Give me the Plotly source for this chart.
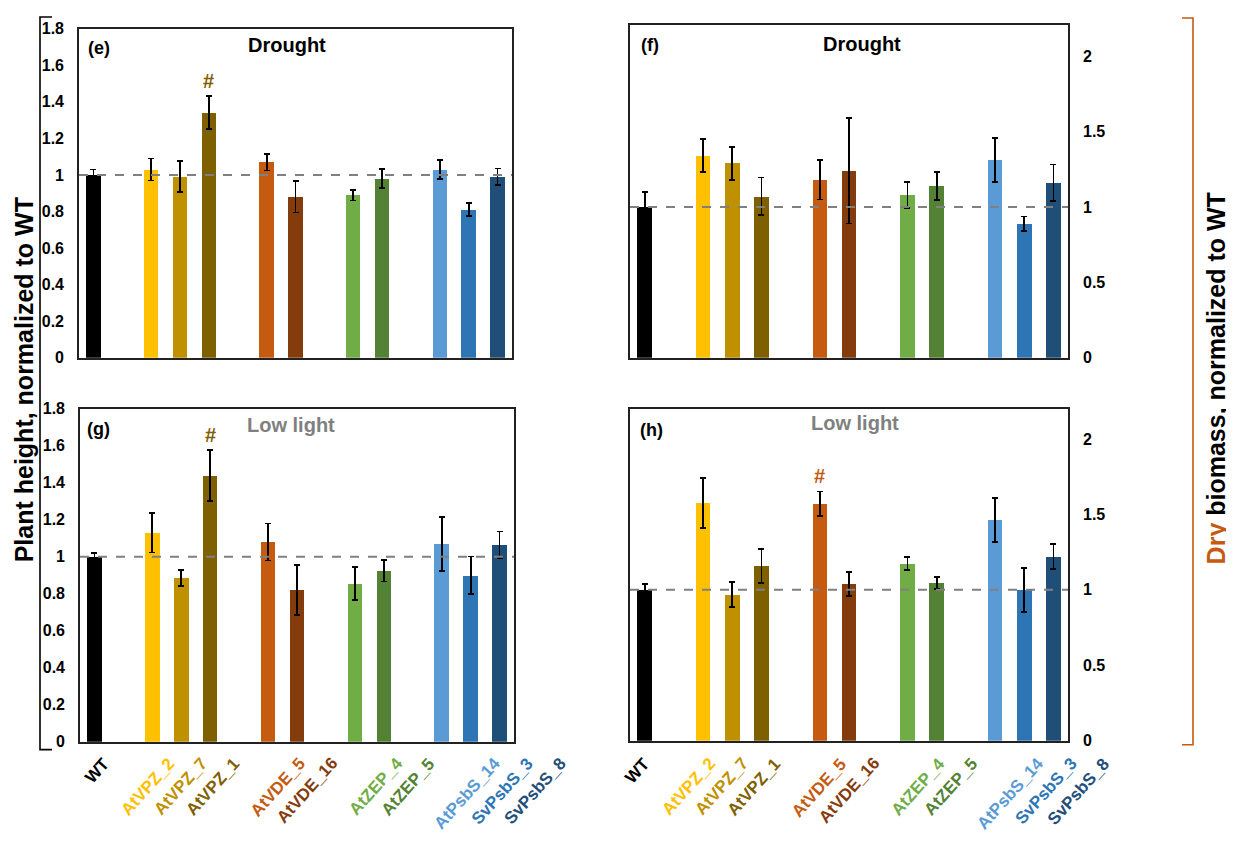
import plotly.graph_objects as go

# page body has an 8px margin; the figure is sized/placed so that the page does not overflow
OFF = 8
W, H = 1234 - OFF, 842 - 2 * OFF

# ---------------- data ----------------
groups = [
    ["WT"],
    ["AtVPZ_2", "AtVPZ_7", "AtVPZ_1"],
    ["AtVDE_5", "AtVDE_16"],
    ["AtZEP_4", "AtZEP_5"],
    ["AtPsbS_14", "SvPsbS_3", "SvPsbS_8"],
]
bar_colors = ["#000000", "#FFC000", "#BF9000", "#7F6000", "#C55A11", "#843C0C",
              "#70AD47", "#548235", "#5B9BD5", "#2E75B6", "#1F4E79"]

height_drought = [1.00, 1.03, 0.99, 1.34, 1.07, 0.88, 0.89, 0.98, 1.03, 0.81, 0.99]
height_drought_err = [0.03, 0.06, 0.085, 0.09, 0.045, 0.085, 0.03, 0.053, 0.05, 0.035, 0.045]
biomass_drought = [1.00, 1.34, 1.29, 1.07, 1.18, 1.24, 1.08, 1.14, 1.31, 0.89, 1.16]
biomass_drought_err = [0.10, 0.11, 0.11, 0.125, 0.13, 0.35, 0.085, 0.093, 0.146, 0.047, 0.122]
height_lowlight = [1.00, 1.13, 0.885, 1.44, 1.08, 0.82, 0.855, 0.925, 1.07, 0.90, 1.065]
height_lowlight_err = [0.02, 0.107, 0.043, 0.137, 0.10, 0.137, 0.089, 0.059, 0.145, 0.101, 0.072]
biomass_lowlight = [1.00, 1.575, 0.97, 1.16, 1.57, 1.04, 1.175, 1.045, 1.465, 1.00, 1.22]
biomass_lowlight_err = [0.04, 0.164, 0.083, 0.112, 0.082, 0.079, 0.045, 0.041, 0.146, 0.145, 0.084]

height_ticks = [0, 0.2, 0.4, 0.6, 0.8, 1.0, 1.2, 1.4, 1.6, 1.8]
biomass_ticks = [0, 0.5, 1.0, 1.5, 2.0]
WT_REF = 1.0

# ---------------- positions (groups separated by one empty slot) ----------------
categories, xpos = [], []
p = 0
for g in groups:
    for c in g:
        categories.append(c)
        xpos.append(p)
        p += 1
    p += 1
xmax = xpos[-1]


def px(x):
    return (x - OFF) / W


def py(y):
    return 1 - (y - OFF) / H


FONT = "Arial, Liberation Sans, sans-serif"
AX_COLOR = "#222222"

panels = [
    dict(ax="", vals=height_drought, err=height_drought_err, side="left",
         xdom=(79, 512), ydom=(21, 357), rng=[0, 1.8], ticks=height_ticks,
         title="Drought", tcol="#000000", tpos=(287, 38), label="(e)", lpos=(86, 41),
         sig=["AtVPZ_1"]),
    dict(ax="2", vals=biomass_drought, err=biomass_drought_err, side="right",
         xdom=(630, 1068), ydom=(17, 357), rng=[0, 2.208], ticks=biomass_ticks,
         title="Drought", tcol="#000000", tpos=(862, 37), label="(f)", lpos=(639, 38),
         sig=[]),
    dict(ax="3", vals=height_lowlight, err=height_lowlight_err, side="left",
         xdom=(80, 514), ydom=(409, 749), rng=[0, 1.8], ticks=height_ticks,
         title="Low light", tcol="#808080", tpos=(291, 426), label="(g)", lpos=(85, 430),
         sig=["AtVPZ_1"]),
    dict(ax="4", vals=biomass_lowlight, err=biomass_lowlight_err, side="right",
         xdom=(630, 1068), ydom=(409, 748), rng=[0, 2.2], ticks=biomass_ticks,
         title="Low light", tcol="#808080", tpos=(855, 424), label="(h)", lpos=(638, 431),
         sig=["AtVDE_5"]),
]

fig = go.Figure()
annotations = []
shapes = []
layout = {}

for pn in panels:
    a = pn["ax"]
    xname = "x" + a
    yname = "y" + a
    fig.add_trace(go.Bar(
        x=xpos, y=pn["vals"], width=0.5,
        marker=dict(color=bar_colors, line=dict(width=0)),
        error_y=dict(type="data", array=pn["err"], visible=True,
                     color="#000000", thickness=1.8, width=3),
        xaxis=xname, yaxis=yname, showlegend=False,
        hovertext=categories,
    ))
    layout["xaxis" + a] = dict(
        domain=[px(pn["xdom"][0]), px(pn["xdom"][1])],
        anchor=yname, range=[-0.5, xmax + 0.5],
        showticklabels=False, ticks="", showgrid=False, zeroline=False,
        showline=True, linecolor=AX_COLOR, linewidth=1.6, mirror=True,
    )
    layout["yaxis" + a] = dict(
        domain=[py(pn["ydom"][1]), py(pn["ydom"][0])],
        anchor=xname, range=pn["rng"], side=pn["side"],
        tickmode="array", tickvals=pn["ticks"],
        ticktext=[("%g" % t) for t in pn["ticks"]],
        ticks="", ticklabelstandoff=10,
        tickfont=dict(family=FONT, size=16, color="#000000", weight="bold"),
        showgrid=False, zeroline=False,
        showline=True, linecolor=AX_COLOR, linewidth=1.6, mirror=True,
    )
    # reference dashed line at WT = 1
    shapes.append(dict(type="line", xref=xname + " domain", x0=0, x1=1,
                       yref=yname, y0=WT_REF, y1=WT_REF,
                       line=dict(color="#808080", width=2, dash="dash")))
    # panel title and label
    annotations.append(dict(text="<b>%s</b>" % pn["title"], xref="paper", yref="paper",
                            x=px(pn["tpos"][0]), y=py(pn["tpos"][1]),
                            xanchor="center", yanchor="middle", showarrow=False,
                            font=dict(family=FONT, size=20, color=pn["tcol"])))
    annotations.append(dict(text="<b>%s</b>" % pn["label"], xref="paper", yref="paper",
                            x=px(pn["lpos"][0]), y=py(pn["lpos"][1]),
                            xanchor="left", yanchor="middle", showarrow=False,
                            font=dict(family=FONT, size=18, color="#000000")))
    # significance marks
    for c in pn["sig"]:
        i = categories.index(c)
        annotations.append(dict(text="<b>#</b>", xref=xname, yref=yname,
                                x=xpos[i], y=pn["vals"][i] + pn["err"][i],
                                xanchor="center", yanchor="bottom", yshift=2,
                                showarrow=False,
                                font=dict(family=FONT, size=20, color=bar_colors[i])))

# category labels under bottom panels
for axname, base in (("x3", 22), ("x4", 12)):
    for i, c in enumerate(categories):
        annotations.append(dict(text="<b>%s</b>" % c, xref=axname, yref="paper",
                                x=xpos[i], y=py(759), xanchor="right", yanchor="top",
                                xshift=base + 3.6 * xpos[i], textangle=-48,
                                showarrow=False,
                                font=dict(family=FONT, size=17, color=bar_colors[i])))

# y-axis titles
annotations.append(dict(text="<b>Plant height, normalized to WT</b>", xref="paper", yref="paper",
                        x=px(24), y=py(380), xanchor="center", yanchor="middle",
                        textangle=-90, showarrow=False,
                        font=dict(family=FONT, size=25, color="#000000")))
annotations.append(dict(text="<b><span style='color:#C55A11'>Dry</span> biomass, normalized to WT</b>",
                        xref="paper", yref="paper",
                        x=px(1216), y=py(378), xanchor="center", yanchor="middle",
                        textangle=-90, showarrow=False,
                        font=dict(family=FONT, size=25, color="#000000")))

# brackets
shapes.append(dict(type="path", xref="paper", yref="paper",
                   path="M %f,%f L %f,%f L %f,%f L %f,%f" % (px(52), py(9), px(40), py(9),
                                                            px(40), py(757), px(52), py(757)),
                   line=dict(color="#000000", width=1.6)))
shapes.append(dict(type="path", xref="paper", yref="paper",
                   path="M %f,%f L %f,%f L %f,%f L %f,%f" % (px(1182), py(10), px(1193), py(10),
                                                            px(1193), py(752), px(1182), py(752)),
                   line=dict(color="#C55A11", width=1.6)))

fig.update_layout(
    width=W, height=H, autosize=False,
    margin=dict(l=0, r=0, t=0, b=0),
    paper_bgcolor="#FFFFFF", plot_bgcolor="#FFFFFF",
    bargap=0, annotations=annotations, shapes=shapes,
    font=dict(family=FONT),
    **layout,
)

fig.write_html("out.html")
